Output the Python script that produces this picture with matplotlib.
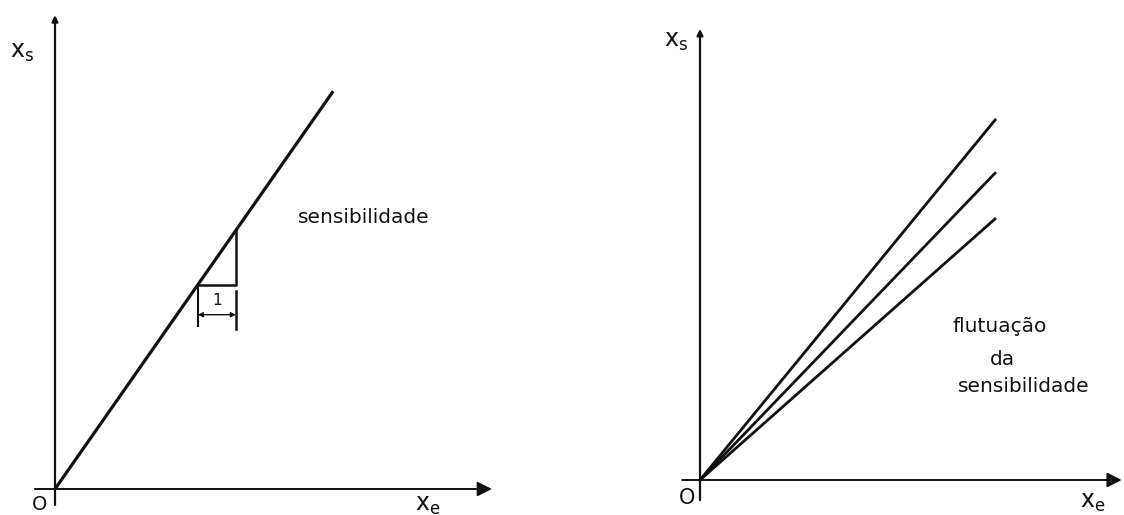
import matplotlib
matplotlib.use('Agg')
import matplotlib.pyplot as plt

# sketch units: one unit = the width of the "1" step
px = 38.0
W, H = 1124, 515

# left panel: sensitivity as slope of the characteristic
left_slope = 1.43
left_x_end = 7.32
step_x = [3.76, 4.76]
step_label = '1'

# right panel: sensitivity fluctuation (three slopes)
right_slopes = [1.22, 1.04, 0.885]
right_x_end = 7.79

ink = '#111111'

fig = plt.figure(figsize=(W / 100, H / 100), dpi=100)


def make_panel(x0, x1, ox, oy):
    # axes covering pixel columns x0..x1, data origin at pixel (ox, oy)
    ax = fig.add_axes([x0 / W, 0, (x1 - x0) / W, 1])
    ax.set_xlim(-(ox - x0) / px, (x1 - ox) / px)
    ax.set_ylim(-(H - oy) / px, oy / px)
    ax.axis('off')
    return ax


def draw_axes(ax, x_lo, x_hi, y_lo, y_hi):
    ax.annotate('', xy=(x_hi, 0), xytext=(x_lo, 0),
                arrowprops=dict(arrowstyle='-|>', lw=1.4, color=ink,
                                mutation_scale=22, shrinkA=0, shrinkB=0))
    ax.annotate('', xy=(0, y_hi), xytext=(0, y_lo),
                arrowprops=dict(arrowstyle='-|>', lw=1.6, color=ink,
                                mutation_scale=9, shrinkA=0, shrinkB=0))


# ---- left panel
axl = make_panel(0, 560, 55, 489)
draw_axes(axl, -0.53, 11.5, -0.42, 12.47)
axl.plot([0, left_x_end], [0, left_slope * left_x_end], color=ink, lw=2.3,
         solid_capstyle='butt')

y_step = left_slope * step_x[0]
axl.plot([step_x[0], step_x[1], step_x[1]],
         [y_step, y_step, left_slope * step_x[1]], color=ink, lw=1.8)
axl.plot([step_x[0], step_x[0]], [y_step, y_step - 1.08], color=ink, lw=1.5)
axl.plot([step_x[1], step_x[1]], [y_step - 0.16, y_step - 1.16], color=ink, lw=1.8)
axl.annotate('', xy=(step_x[1], y_step - 0.79), xytext=(step_x[0], y_step - 0.79),
             arrowprops=dict(arrowstyle='<|-|>', lw=1.0, color=ink,
                             mutation_scale=7, shrinkA=0, shrinkB=0))
axl.text(sum(step_x) / 2, y_step - 0.42, step_label, ha='center', va='center',
         fontsize=11, color=ink)

axl.text(6.39, 7.0, 'sensibilidade', ha='left', va='baseline', fontsize=14.5,
         color=ink)
axl.text(-0.87, 11.5, r'$\mathregular{x_s}$', ha='center', va='center',
         fontsize=17, color=ink)
axl.text(9.8, -0.42, r'$\mathregular{x_e}$', ha='center', va='center',
         fontsize=17, color=ink)
axl.text(-0.4, -0.4, 'O', ha='center', va='center', fontsize=14, color=ink)

# ---- right panel
axr = make_panel(560, 1124, 700, 480)
draw_axes(axr, -0.47, 11.1, -0.53, 11.87)
for s in right_slopes:
    axr.plot([0, right_x_end], [0, s * right_x_end], color=ink, lw=2.0,
             solid_capstyle='butt')

axr.text(7.89, 3.89, 'flutuação', ha='center', va='baseline', fontsize=14.5,
         color=ink)
axr.text(7.95, 3.03, 'da', ha='center', va='baseline', fontsize=14.5, color=ink)
axr.text(8.53, 2.32, 'sensibilidade', ha='center', va='baseline', fontsize=14.5,
         color=ink)
axr.text(-0.63, 11.55, r'$\mathregular{x_s}$', ha='center', va='center',
         fontsize=17, color=ink)
axr.text(10.34, -0.58, r'$\mathregular{x_e}$', ha='center', va='center',
         fontsize=17, color=ink)
axr.text(-0.34, -0.47, 'O', ha='center', va='center', fontsize=15, color=ink)

fig.savefig('out.png', dpi=100)
